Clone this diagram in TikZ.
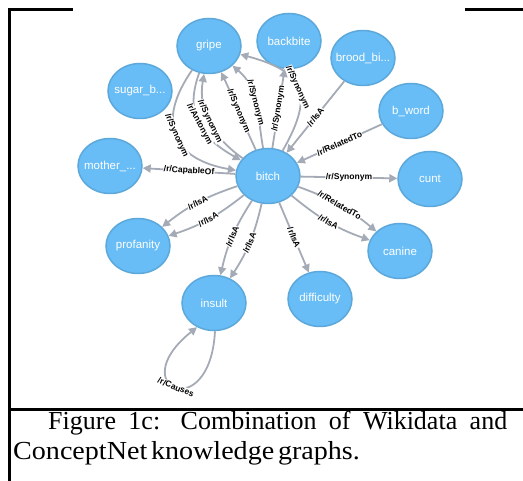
\documentclass[tikz,border=0pt]{standalone}
\usepackage{fontspec}
\setmainfont{Liberation Serif}
\setsansfont{Liberation Sans}
\usepackage{tikz}
\usetikzlibrary{positioning,shapes.geometric,arrows.meta}
\definecolor{nodeblue}{HTML}{68BDF6}
\definecolor{nodeline}{HTML}{5CA8DB}
\definecolor{relgray}{HTML}{A5ABB6}

\begin{document}
\begin{tikzpicture}[x=1pt, y=1pt, on grid,
	cnode/.style={ellipse,draw=nodeline,fill=nodeblue,line width=1.5pt,minimum width=64pt,minimum height=55pt,inner xsep=-10pt,inner ysep=0pt,text=white,font=\sffamily\fontsize{11.5}{12}\selectfont},
	rel/.style={draw=relgray,line width=1.8pt,-{Triangle[length=8pt,width=8pt]}},
	rlab/.style={sloped,fill=white,inner sep=0.4pt,text=black,font=\sffamily\bfseries\fontsize{8.5}{9}\selectfont},
	caption/.style={inner sep=0pt,anchor=base west,font=\fontsize{26}{30}\selectfont}]
	\useasboundingbox (0,0) rectangle (523,-481);
	% frame round the figure
	\draw[line width=2.7pt] (9.7,-481) -- (9.7,-9.3) -- (73,-9.3);
	\draw[line width=2.7pt] (465,-9.3) -- (523,-9.3);
	\draw[line width=2.3pt] (8.5,-409.5) -- (523,-409.5);
	% graph
	\node[cnode] (bitch) at (268,-176) {bitch};
	\node[cnode] (gripe)[above left = 130pt and 59pt of bitch]{gripe};
	\node[cnode] (backbite)[above right = 135pt and 21pt of bitch]{backbite};
	\node[cnode] (brood)[above right = 118pt and 95pt of bitch]{brood\_bi...};
	\node[cnode] (sugar)[above left = 85pt and 128pt of bitch]{sugar\_b...};
	\node[cnode] (bword)[above right = 65pt and 143pt of bitch]{b\_word};
	\node[cnode] (mother)[above left = 10pt and 158pt of bitch]{mother\_...};
	\node[cnode] (cunt)[below right = 3pt and 162pt of bitch]{cunt};
	\node[cnode] (canine)[below right = 75pt and 132pt of bitch]{canine};
	\node[cnode] (profanity)[below left = 70pt and 130pt of bitch]{profanity};
	\node[cnode] (insult)[below left = 127pt and 54pt of bitch]{insult};
	\node[cnode] (difficulty)[below right = 123pt and 52pt of bitch]{difficulty};
	\draw[rel] (gripe) to [out=235,in=170,looseness=1.5] node[rlab]{/r/Synonym} (bitch);
	\draw[rel] (gripe) to [out=250,in=150,looseness=1.2] node[rlab]{/r/Antonym} (bitch);
	\draw[rel] (bitch) to [out=145,in=-100] node[rlab]{/r/Synonym} (gripe);
	\draw[rel] (bitch) to [out=115,in=-65] node[rlab]{/r/Synonym} (gripe);
	\draw[rel] (bitch) to [out=100,in=-40] node[rlab]{/r/Synonym} (gripe);
	\draw[rel] (bitch) to [out=60,in=-15,looseness=1.6] node[rlab]{/r/Synonym} (gripe);
	\draw[rel] (bitch) -- node[rlab]{/r/Synonym} (backbite);
	\draw[rel] (brood) -- node[rlab]{/r/IsA} (bitch);
	\draw[rel] (bword) -- node[rlab]{/r/RelatedTo} (bitch);
	\draw[rel] (bitch) -- node[rlab]{/r/CapableOf} (mother);
	\draw[rel] (bitch) -- node[rlab]{/r/Synonym} (cunt);
	\draw[rel] (bitch) to [bend left=10] node[rlab]{/r/RelatedTo} (canine);
	\draw[rel] (bitch) to [bend right=10] node[rlab]{/r/IsA} (canine);
	\draw[rel] (bitch) to [bend right=10] node[rlab]{/r/IsA} (profanity);
	\draw[rel] (bitch) to [bend left=10] node[rlab]{/r/IsA} (profanity);
	\draw[rel] (bitch) to [bend right=10] node[rlab]{/r/IsA} (insult);
	\draw[rel] (bitch) to [bend left=10] node[rlab]{/r/IsA} (insult);
	\draw[rel] (bitch) -- node[rlab]{/r/IsA} (difficulty);
	\draw[rel] (insult.-88) .. controls +(-5,-95) and +(-75,-60) .. node[rlab,pos=0.5]{/r/Causes} (insult.-125);
	% caption
	\node[caption] (capa) at (48,-430) {\makebox[459pt][s]{Figure 1c: Combination of Wikidata and}};
	\node[caption] (capb) at (13,-460) {\scalebox{1.08}[1]{\makebox[321pt][s]{\spaceskip=3pt plus 9pt ConceptNet knowledge graphs.}}};
\end{tikzpicture}
\end{document}
